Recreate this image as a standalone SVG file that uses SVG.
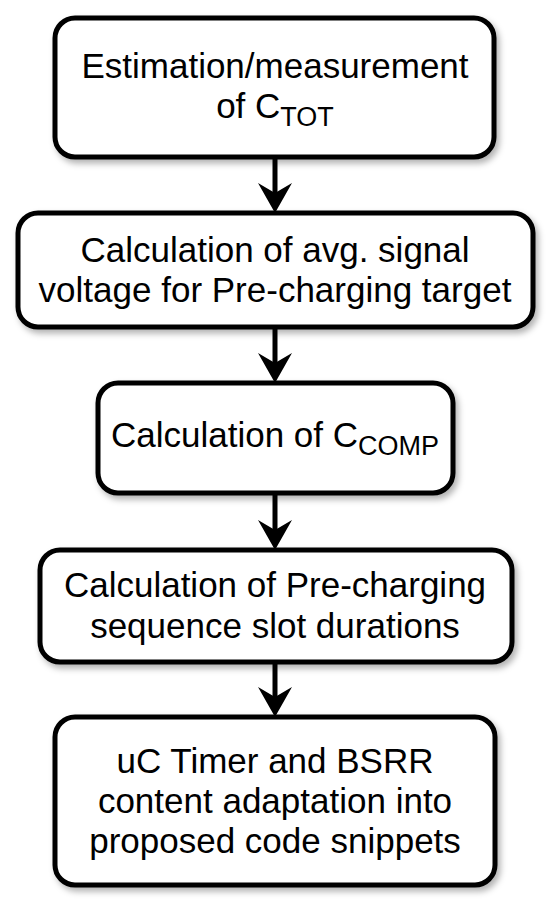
<svg xmlns="http://www.w3.org/2000/svg" width="550" height="908" viewBox="0 0 550 908">
<defs>
<filter id="sh" x="-10%" y="-10%" width="130%" height="140%">
<feDropShadow dx="3" dy="4" stdDeviation="3" flood-color="#000" flood-opacity="0.3"/>
</filter>
</defs>
<style>
.box{fill:#fff;stroke:#000;stroke-width:5;filter:url(#sh)}
.t{font-family:"Liberation Sans",Arial,sans-serif;font-size:35px;fill:#000;text-anchor:middle}
.sub{font-size:27px}
.c{stroke:#000;stroke-width:5;fill:none}
.ah{fill:#000}
</style>
<rect width="550" height="908" fill="#fff"/>
<g id="connectors">
<line class="c" x1="275" y1="157" x2="275" y2="200"/>
<path class="ah" d="M258,183 L275,193 L292,183 L275,213 Z"/>
<line class="c" x1="275" y1="327" x2="275" y2="370"/>
<path class="ah" d="M258,353 L275,363 L292,353 L275,383 Z"/>
<line class="c" x1="275" y1="493" x2="275" y2="537"/>
<path class="ah" d="M258,520 L275,530 L292,520 L275,550 Z"/>
<line class="c" x1="275" y1="662" x2="275" y2="704"/>
<path class="ah" d="M258,687 L275,697 L292,687 L275,717 Z"/>
</g>
<g id="n1">
<rect class="box" x="55" y="18" width="439" height="139" rx="20"/>
<text class="t" x="275" y="78">Estimation/measurement</text>
<text class="t" x="275" y="118">of C<tspan class="sub" dy="8">TOT</tspan></text>
</g>
<g id="n2">
<rect class="box" x="18" y="213" width="515" height="114" rx="20"/>
<text class="t" x="275" y="262">Calculation of avg. signal</text>
<text class="t" x="275" y="302">voltage for Pre-charging target</text>
</g>
<g id="n3">
<rect class="box" x="98" y="383" width="355" height="110" rx="20"/>
<text class="t" x="275" y="447">Calculation of C<tspan class="sub" dy="8">COMP</tspan></text>
</g>
<g id="n4">
<rect class="box" x="40" y="550" width="472" height="112" rx="20"/>
<text class="t" x="275" y="597">Calculation of Pre-charging</text>
<text class="t" x="275" y="638">sequence slot durations</text>
</g>
<g id="n5">
<rect class="box" x="55" y="717" width="440" height="168" rx="20"/>
<text class="t" x="275" y="773">uC Timer and BSRR</text>
<text class="t" x="275" y="813">content adaptation into</text>
<text class="t" x="275" y="853">proposed code snippets</text>
</g>
</svg>
